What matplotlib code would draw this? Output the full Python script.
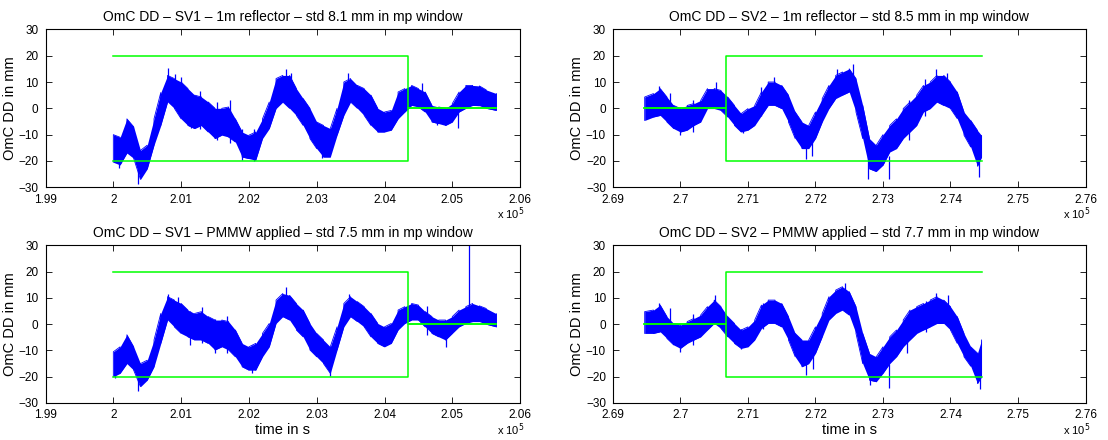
import numpy as np
import matplotlib
matplotlib.use("Agg")
import matplotlib.pyplot as plt
from matplotlib.ticker import FuncFormatter, MultipleLocator

plt.rcParams['font.family'] = ['Liberation Sans', 'DejaVu Sans']

# ---------------- data (time in units of 1e5 s, values in mm) ----------------
t_sv1 = [2.000, 2.001, 2.002, 2.003, 2.004, 2.005, 2.006, 2.007, 2.008, 2.009,
         2.010, 2.011, 2.012, 2.013, 2.014, 2.015, 2.016, 2.017, 2.018, 2.019,
         2.020, 2.021, 2.022, 2.023, 2.024, 2.025, 2.026, 2.027, 2.028, 2.029,
         2.030, 2.031, 2.032, 2.033, 2.034, 2.035, 2.036, 2.037, 2.038, 2.039,
         2.040, 2.041, 2.042, 2.043, 2.044, 2.045, 2.046, 2.047, 2.048, 2.049,
         2.050, 2.051, 2.052, 2.053, 2.054, 2.055, 2.0565]
t_sv2 = [2.6947, 2.696, 2.697, 2.698, 2.699, 2.700, 2.701, 2.702, 2.703, 2.704,
         2.705, 2.706, 2.707, 2.708, 2.709, 2.710, 2.711, 2.712, 2.713, 2.714,
         2.715, 2.716, 2.717, 2.718, 2.719, 2.720, 2.721, 2.722, 2.723, 2.724,
         2.725, 2.726, 2.727, 2.728, 2.729, 2.730, 2.731, 2.732, 2.733, 2.734,
         2.735, 2.736, 2.737, 2.738, 2.739, 2.740, 2.741, 2.742, 2.743, 2.744,
         2.7446]

# SV1 - 1m reflector (lower / upper edge of the noisy trace)
sv1_refl_lo = [-20.5, -21.5, -17, -19, -27, -23, -14, -6.5, 2.4, 0,
               -4, -6.5, -7.7, -6.5, -9, -11.5, -10.2, -10.9, -12.8, -18.5,
               -19.1, -19.7, -11.5, -7.7, -0.1, 2.4, 0, -2.7, -6.5, -11.5,
               -15.3, -18.5, -18.5, -10.2, -2.7, 2.4, 0, -2.7, -6.5, -9,
               -9, -8.3, -4, -1.4, 1.1, 0.5, -1.4, -5.2, -5.8, -6.5,
               -5.2, -1.4, 0, 1.1, 1, 0, -0.8]
sv1_refl_hi = [-10, -11, -4, -7, -16, -14, -4, 6, 12.5, 11.3,
               10, 7.5, 5, 4.3, 2.4, 0, 0, 0.5, -4, -9,
               -10.2, -9, -4, 2.4, 11.3, 12.5, 12.5, 7.5, 3.7, 0,
               -5.2, -6.5, -7.7, 0, 10, 11.3, 8.7, 7.5, 5, 0,
               -1.4, -0.8, 6.2, 7.5, 8.7, 7.5, 6.2, 1.1, 0.5, 0,
               1.8, 6.2, 8.7, 8.7, 8.5, 7, 5.6]
sv1_refl_spk_t = [2.0008, 2.0037, 2.0081, 2.0091, 2.0100, 2.0114, 2.0128, 2.0153,
                  2.0172, 2.0190, 2.0208, 2.0254, 2.0262, 2.0308, 2.0346, 2.0455, 2.0478, 2.0508]
sv1_refl_spk_lo = [-22.5, -28.6, 6, 4, 2, -7.5, -8, -12, -13, -19.5, -20, 6, 5, -19, 4, 4, -6.5, -7.5]
sv1_refl_spk_hi = [-12, -20, 15.3, 13, 12, 5, 6.5, 2.5, 3, -8, -8, 14.8, 13.5, -10, 13.5, 9.5, -1, 0]

# SV2 - 1m reflector
sv2_refl_lo = [-4.6, -3.3, -2.7, -5.2, -7.7, -9, -8.3, -6.5, -5.2, -0.1,
               -0.1, -0.8, -3.3, -6.5, -9, -8.3, -6.5, -2.7, 1.1, 1.1,
               -0.1, -5.2, -11.5, -15.3, -15.3, -11.5, -5.2, -0.1, 3.7, 5,
               6.2, -1.4, -11.5, -23, -24, -21.6, -16.6, -15.3, -11.5, -9,
               -6.5, -1.4, -0.1, 2.4, 1.1, -0.1, -3.9, -10.2, -14.7, -22,
               -18.5]
sv2_refl_hi = [4.3, 5.6, 7.5, 4.3, 1.1, -0.1, 1.1, 1.8, 3, 7.5,
               7.5, 6.8, 4.3, 1.1, -2, -0.1, 1.1, 6.2, 10, 10,
               8.7, 5, -1.4, -5.2, -6.5, -1.4, 3.7, 8.7, 12.5, 13.8,
               15, 11.3, 1.1, -11.5, -14, -10, -6.5, -4, -0.1, 2.4,
               5, 8.7, 10, 12.5, 12.5, 10, 6.2, -1.4, -4.6, -8.4,
               -10.3]
sv2_refl_spk_t = [2.6968, 2.6985, 2.7000, 2.7018, 2.7053, 2.7092, 2.7120, 2.7139, 2.7186,
                  2.7195, 2.7232, 2.7255, 2.7278, 2.7309, 2.7338, 2.7362, 2.7379, 2.7395, 2.7442]
sv2_refl_spk_lo = [2, -6, -10.2, -9, 2, -9.5, -3, 4, -19.1, -18, 6, 8, -26.7, -26.7, -12, -3, 6, 4, -26]
sv2_refl_spk_hi = [8.5, 6, -3, 3, 10, -2, 8, 11.9, -10, -8, 15, 17, -18, -18, 3, 11, 15, 13.5, -15]

# SV1 - PMMW applied
sv1_pmmw_lo = [-20, -18.7, -15, -17.5, -23.8, -21.3, -16.2, -7.3, 1.6, -1,
               -3.5, -4.8, -6, -6, -7.3, -9.8, -8.6, -9.8, -12.4, -16.2,
               -17.5, -17.5, -12.4, -8.6, 0.3, 2.9, 1.6, -2.2, -4.8, -9.8,
               -12.4, -15, -18.7, -9.8, -1, 2.9, 1, -1, -4.8, -7.3,
               -8.6, -7.3, -2.2, 0.3, 1.6, 1.6, -1, -3.5, -4.8, -6,
               -3.5, -1, 0.3, 1, 1, 0, -1]
sv1_pmmw_hi = [-10.5, -8.6, -4, -8.6, -15, -13.7, -6, 4.1, 10.5, 9.2,
               7.9, 5.4, 4.1, 4.8, 2.9, 1.6, 1.6, 1, -2.2, -7.3,
               -8.6, -7.3, -3.5, 0.3, 9.2, 11.7, 11, 7.9, 5.4, 0.3,
               -3.5, -6, -8.6, -1, 7.9, 10.5, 8.6, 6.7, 4.1, 0.3,
               -1, 0.3, 5.4, 6.7, 7.9, 7.3, 4.8, 2.9, 1.6, 1.6,
               2.9, 5.4, 6.7, 7.9, 7, 6, 4]
sv1_pmmw_spk_t = [2.0002, 2.0037, 2.0081, 2.0096, 2.0113, 2.0131, 2.0150, 2.0168,
                  2.0205, 2.0254, 2.0320, 2.0348, 2.0462, 2.0491, 2.0525]
sv1_pmmw_spk_lo = [-20.6, -25.5, 4, 2, -8, -7, -11, -11, -18.5, 6, -19.7, 4, -4, -8.5, 2]
sv1_pmmw_spk_hi = [-12, -18, 11.5, 10.2, 5, 6.5, 2, 3, -8, 14.3, -10, 11.7, 7, 0, 32]

# SV2 - PMMW applied
sv2_pmmw_lo = [-3.5, -3.5, -2.9, -5.4, -7.9, -9.2, -7.3, -6, -4.8, -2.2,
               0.3, -1.6, -4.8, -7.3, -9.2, -8.6, -6, -1.6, 0.3, 0.3,
               -1, -6, -12.4, -16.2, -15, -11.1, -4.8, 1.6, 4.1, 5.4,
               3.5, -3.5, -15, -21.3, -21.9, -18.7, -15, -12.4, -8.6, -6,
               -3.5, -2.2, -1, 0.3, 0.3, -2.2, -7.3, -12.4, -16, -22.6,
               -20]
sv2_pmmw_hi = [4.8, 5.4, 7.3, 2.9, 0.3, -0.3, 1, 2.2, 3.5, 6.7,
               9.2, 6.7, 2.9, 0.3, -2.2, -1, 1.6, 7.3, 9.2, 9.2,
               7.9, 2.9, -3.5, -6, -6, -1, 4.1, 10.5, 13, 14.3,
               12.4, 6.7, -3.5, -11.1, -12.4, -8.6, -4.8, -2.2, 1.6, 5.4,
               6.7, 7.9, 9.2, 10.5, 9.2, 6.7, 2.9, -3.5, -8.6, -11,
               -6]
sv2_pmmw_spk_t = [2.6968, 2.6985, 2.7000, 2.7018, 2.7051, 2.7090, 2.7122, 2.7186,
                  2.7196, 2.7243, 2.7281, 2.7309, 2.7335, 2.7363, 2.7379, 2.7396, 2.7443]
sv2_pmmw_spk_lo = [1, -6, -10.5, -8, 3, -9.5, -2, -19.4, -17, 8, -23.2, -24.2, -11, -3, 4, 3, -24.5]
sv2_pmmw_spk_hi = [8.2, 6, -3, 4, 11.1, -2, 8, -10, -8, 15.8, -15, -15, 2, 9, 12, 11, -15]

# mp-window limits: (start, switch, end) times
sv1_win = [2.000, 2.0434, 2.0565]
sv2_win = [2.6946, 2.70668, 2.7446]
lim_in = 20.0

titles = ["OmC DD \u2013 SV1 \u2013 1m reflector \u2013 std 8.1 mm in mp window",
          "OmC DD \u2013 SV2 \u2013 1m reflector \u2013 std 8.5 mm in mp window",
          "OmC DD \u2013 SV1 \u2013 PMMW applied \u2013 std 7.5 mm in mp window",
          "OmC DD \u2013 SV2 \u2013 PMMW applied \u2013 std 7.7 mm in mp window"]
xlims = [(1.99, 2.06), (2.69, 2.76), (1.99, 2.06), (2.69, 2.76)]

BLUE = '#0000ff'
GREEN = '#00ff00'
SCALE = 1e5

fig = plt.figure(figsize=(11.08, 4.4), dpi=100)
positions = [[0.0411, 0.5743, 0.4283, 0.359],
             [0.5532, 0.5743, 0.4265, 0.359],
             [0.0411, 0.0841, 0.4283, 0.358],
             [0.5532, 0.0841, 0.4265, 0.358]]

panels = [
    (t_sv1, sv1_refl_lo, sv1_refl_hi, sv1_refl_spk_t, sv1_refl_spk_lo, sv1_refl_spk_hi, sv1_win, 'sv1'),
    (t_sv2, sv2_refl_lo, sv2_refl_hi, sv2_refl_spk_t, sv2_refl_spk_lo, sv2_refl_spk_hi, sv2_win, 'sv2'),
    (t_sv1, sv1_pmmw_lo, sv1_pmmw_hi, sv1_pmmw_spk_t, sv1_pmmw_spk_lo, sv1_pmmw_spk_hi, sv1_win, 'sv1'),
    (t_sv2, sv2_pmmw_lo, sv2_pmmw_hi, sv2_pmmw_spk_t, sv2_pmmw_spk_lo, sv2_pmmw_spk_hi, sv2_win, 'sv2'),
]

for k, (t, lo, hi, st, slo, shi, win, sv) in enumerate(panels):
    ax = fig.add_axes(positions[k])
    tt = np.array(t) * SCALE
    lo = np.array(lo, float)
    hi = np.array(hi, float)
    ax.fill_between(tt, lo, hi, color=BLUE, linewidth=0, zorder=2)
    # zig-zag trace between lower and upper edges
    zx = np.repeat(tt, 2)
    zy = np.empty(2 * len(tt))
    for i in range(len(tt)):
        if i % 2 == 0:
            zy[2 * i], zy[2 * i + 1] = lo[i], hi[i]
        else:
            zy[2 * i], zy[2 * i + 1] = hi[i], lo[i]
    ax.plot(zx, zy, color=BLUE, lw=0.6, zorder=2)
    ax.vlines(np.array(st) * SCALE, slo, shi, color=BLUE, lw=0.9, zorder=2)

    # window limits
    w0, w1, w2 = [w * SCALE for w in win]
    if sv == 'sv1':
        up = ([w0, w1, w1, w2], [lim_in, lim_in, 0, 0])
        dn = ([w0, w1, w1, w2], [-lim_in, -lim_in, 0, 0])
    else:
        up = ([w0, w1, w1, w2], [0, 0, lim_in, lim_in])
        dn = ([w0, w1, w1, w2], [0, 0, -lim_in, -lim_in])
    ax.plot(*up, color=GREEN, lw=1.1, zorder=3)
    ax.plot(*dn, color=GREEN, lw=1.1, zorder=3)

    ax.set_xlim(xlims[k][0] * SCALE, xlims[k][1] * SCALE)
    ax.set_ylim(-30, 30)
    ax.xaxis.set_major_locator(MultipleLocator(0.01 * SCALE))
    ax.yaxis.set_major_locator(MultipleLocator(10))
    ax.xaxis.set_major_formatter(FuncFormatter(lambda v, p: '%g' % round(v / SCALE, 4)))
    ax.yaxis.set_major_formatter(FuncFormatter(lambda v, p: ('%d' % v).replace('-', '\u2212')))
    ax.tick_params(direction='in', top=True, right=True, length=4, width=0.6,
                   labelsize=8.5, colors='black')
    ax.tick_params(axis='y', pad=5)
    ax.tick_params(axis='x', pad=4.5)
    for sp in ax.spines.values():
        sp.set_linewidth(0.8)
    ax.set_title(titles[k], fontsize=10, pad=6)
    ax.set_ylabel('OmC DD in mm', fontsize=10.5, labelpad=1)
    if k >= 2:
        ax.set_xlabel('time in s', fontsize=10.5, labelpad=1)
    ax.text(1.01, -0.17, 'x 10$^5$', transform=ax.transAxes, ha='right', va='center', fontsize=8)

fig.savefig('out.png', dpi=100)
